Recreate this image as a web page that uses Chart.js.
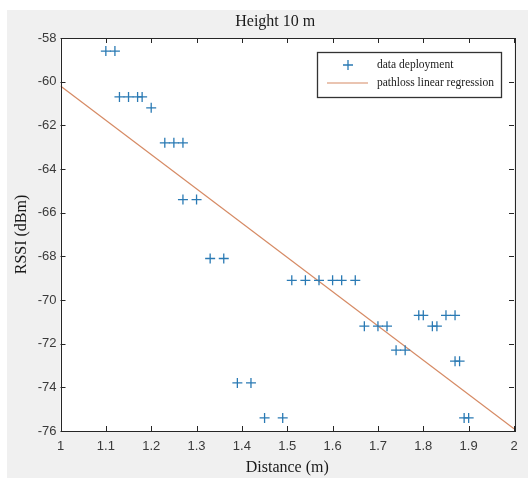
<!DOCTYPE html>
<html>
<head>
<meta charset="utf-8">
<script src="https://cdn.jsdelivr.net/npm/chart.js@4/dist/chart.umd.min.js"></script>
<style>
  html, body { margin: 0; padding: 0; background: #fff; }
</style>
</head>
<body>
<canvas id="chart" width="528" height="479"></canvas>
<script>
const distance = [1.10, 1.12, 1.13, 1.15, 1.17, 1.18, 1.20, 1.23, 1.25, 1.27,
                  1.27, 1.30, 1.33, 1.36, 1.39, 1.42, 1.45, 1.49, 1.51, 1.54,
                  1.57, 1.60, 1.62, 1.65, 1.67, 1.70, 1.72, 1.74, 1.76, 1.79,
                  1.80, 1.82, 1.83, 1.85, 1.87, 1.87, 1.88, 1.89, 1.90];
const rssi = [-58.6, -58.6, -60.7, -60.7, -60.7, -60.7, -61.2, -62.8, -62.8, -62.8,
              -65.4, -65.4, -68.1, -68.1, -73.8, -73.8, -75.4, -75.4, -69.1, -69.1,
              -69.1, -69.1, -69.1, -69.1, -71.2, -71.2, -71.2, -72.3, -72.3, -70.7,
              -70.7, -71.2, -71.2, -70.7, -70.7, -72.8, -72.8, -75.4, -75.4];

// fitted path loss line
const regDistance = [1, 2];
const regRssi = [-60.2, -75.9];

const xTicks = [1, 1.1, 1.2, 1.3, 1.4, 1.5, 1.6, 1.7, 1.8, 1.9, 2];
const yTicks = [-76, -74, -72, -70, -68, -66, -64, -62, -60, -58];

const titleText = 'Height 10 m';
const seriesLabels = ['data deployment', 'pathloss linear regression'];

const blue = '#2a7ab4';
const orange = '#d68a64';
const axisColor = '#262626';
const labelFont = '"Liberation Sans", Arial, sans-serif';
const serifFont = '"Liberation Serif", "DejaVu Serif", serif';

// matlab style frame: grey figure, boxed axes with inward ticks, title and legend
const matlabFrame = {
    id: 'matlabFrame',
    beforeDraw(chart) {
        const ctx = chart.ctx;
        const a = chart.chartArea;
        ctx.save();
        ctx.fillStyle = '#ffffff';
        ctx.fillRect(0, 0, chart.width, chart.height);
        ctx.fillStyle = '#f0f0f0';
        ctx.fillRect(7, 10, chart.width - 7, 468);
        ctx.fillStyle = '#ffffff';
        ctx.fillRect(a.left, a.top, a.right - a.left, a.bottom - a.top);
        ctx.restore();
    },
    afterDraw(chart) {
        const ctx = chart.ctx;
        const a = chart.chartArea;
        const xs = chart.scales.x, ys = chart.scales.y;
        ctx.save();
        ctx.strokeStyle = axisColor;
        ctx.lineWidth = 1;
        ctx.strokeRect(Math.round(a.left) + 0.5, Math.round(a.top) + 0.5,
                       Math.round(a.right - a.left), Math.round(a.bottom - a.top));
        ctx.beginPath();
        xTicks.forEach(v => {
            const px = Math.round(xs.getPixelForValue(v)) + 0.5;
            ctx.moveTo(px, a.bottom); ctx.lineTo(px, a.bottom - 5);
            ctx.moveTo(px, a.top); ctx.lineTo(px, a.top + 5);
        });
        yTicks.forEach(v => {
            const py = Math.round(ys.getPixelForValue(v)) + 0.5;
            ctx.moveTo(a.left, py); ctx.lineTo(a.left + 5, py);
            ctx.moveTo(a.right, py); ctx.lineTo(a.right - 5, py);
        });
        ctx.stroke();

        // title
        ctx.fillStyle = '#1a1a1a';
        ctx.font = '16px ' + serifFont;
        ctx.textAlign = 'center';
        ctx.textBaseline = 'middle';
        ctx.fillText(titleText, (a.left + a.right) / 2 - 12, 22);

        // legend box, top right inside the axes
        const bx = a.right - 197, by = a.top + 14, bw = 184, bh = 45;
        ctx.fillStyle = '#ffffff';
        ctx.fillRect(bx, by, bw, bh);
        ctx.strokeStyle = '#333333';
        ctx.lineWidth = 1.3;
        ctx.strokeRect(bx + 0.5, by + 0.5, bw, bh);

        const ds = chart.data.datasets;
        ctx.strokeStyle = ds[0].borderColor;
        ctx.lineWidth = 1.3;
        ctx.beginPath();
        ctx.moveTo(bx + 26, by + 13); ctx.lineTo(bx + 36, by + 13);
        ctx.moveTo(bx + 31, by + 8); ctx.lineTo(bx + 31, by + 18);
        ctx.stroke();
        ctx.strokeStyle = ds[1].borderColor;
        ctx.lineWidth = 1.2;
        ctx.beginPath();
        ctx.moveTo(bx + 10, by + 31); ctx.lineTo(bx + 51, by + 31);
        ctx.stroke();

        ctx.fillStyle = '#1a1a1a';
        ctx.font = '11.5px ' + serifFont;
        ctx.textAlign = 'left';
        ctx.fillText(ds[0].label, bx + 60, by + 13);
        ctx.fillText(ds[1].label, bx + 60, by + 31);
        ctx.restore();
    }
};

new Chart(document.getElementById('chart'), {
    type: 'scatter',
    data: {
        datasets: [
            {
                label: seriesLabels[0],
                data: distance.map((d, i) => ({ x: d, y: rssi[i] })),
                pointStyle: 'cross',
                pointRadius: 5,
                pointBorderWidth: 1.3,
                borderColor: blue,
                backgroundColor: blue
            },
            {
                label: seriesLabels[1],
                type: 'line',
                data: regDistance.map((d, i) => ({ x: d, y: regRssi[i] })),
                borderColor: orange,
                borderWidth: 1.2,
                pointRadius: 0,
                fill: false
            }
        ]
    },
    options: {
        responsive: false,
        animation: false,
        layout: { padding: { left: 8, right: 14, top: 38, bottom: 0 } },
        plugins: {
            legend: { display: false },
            title: { display: false },
            tooltip: { enabled: false }
        },
        scales: {
            x: {
                type: 'linear',
                min: 1,
                max: 2,
                afterBuildTicks: s => { s.ticks = xTicks.map(v => ({ value: v })); },
                afterFit: s => { s.height = 48; },
                grid: { display: false, drawTicks: false },
                border: { display: false },
                ticks: {
                    padding: 8,
                    color: '#3a3a3a',
                    font: { family: labelFont, size: 13 },
                    callback: v => String(v)
                },
                title: {
                    display: true,
                    text: 'Distance (m)',
                    color: '#1a1a1a',
                    font: { family: serifFont, size: 16 },
                    padding: { top: 0, bottom: 2 }
                }
            },
            y: {
                type: 'linear',
                min: -76,
                max: -58,
                afterBuildTicks: s => { s.ticks = yTicks.map(v => ({ value: v })); },
                afterFit: s => { s.width = 52.5; },
                grid: { display: false, drawTicks: false },
                border: { display: false },
                ticks: {
                    padding: 4,
                    color: '#3a3a3a',
                    font: { family: labelFont, size: 13 },
                    callback: v => String(v)
                },
                title: {
                    display: true,
                    text: 'RSSI (dBm)',
                    color: '#1a1a1a',
                    font: { family: serifFont, size: 16 },
                    padding: { top: 4, bottom: 0 }
                }
            }
        }
    },
    plugins: [matlabFrame]
});
</script>
</body>
</html>
